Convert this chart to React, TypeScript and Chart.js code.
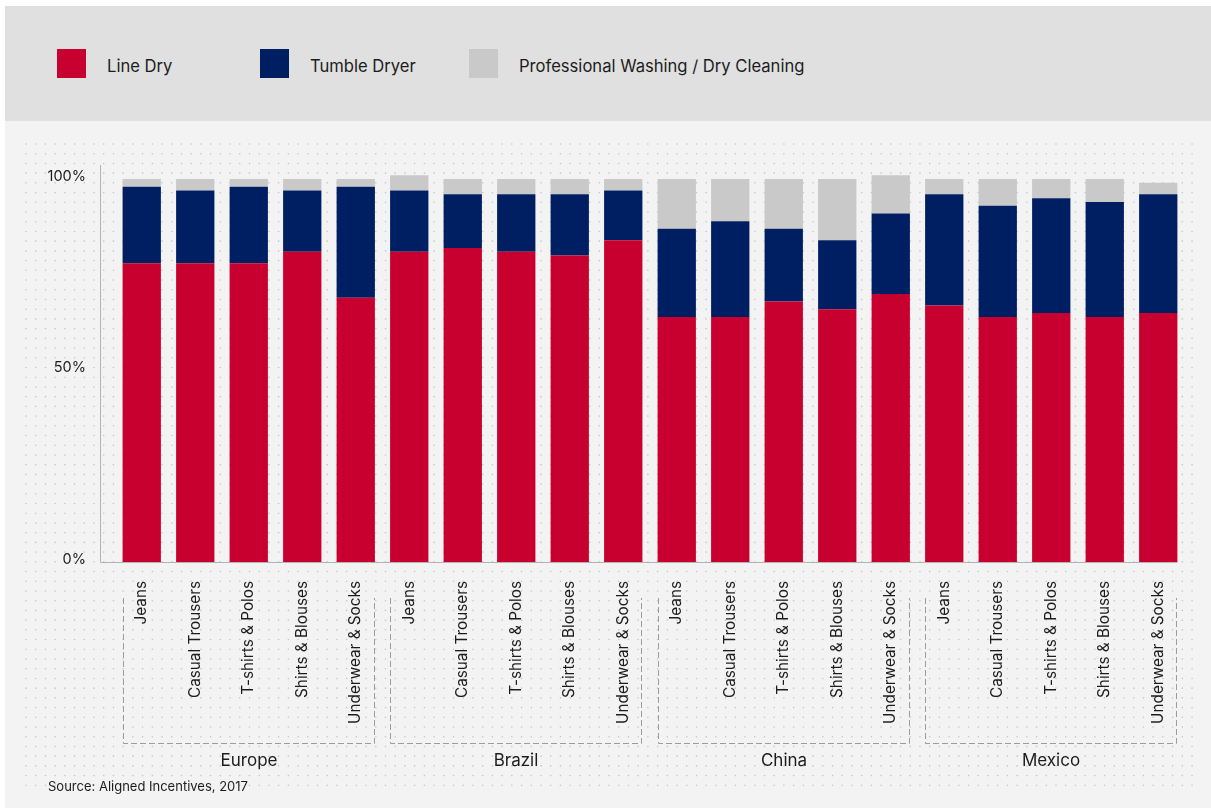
import React, { useEffect, useRef } from "react";
import { Chart, registerables } from "chart.js";

Chart.register(...registerables);

const regions = ["Europe", "Brazil", "China", "Mexico"];
const garments = ["Jeans", "Casual Trousers", "T-shirts & Polos", "Shirts & Blouses", "Underwear & Socks"];
const categories = regions.flatMap(() => garments);

const seriesNames = ["Line Dry", "Tumble Dryer", "Professional Washing / Dry Cleaning"];
const seriesColors = ["#C8002F", "#001F63", "#C9C9C9"];

const lineDry = [78, 78, 78, 81, 69, 81, 82, 81, 80, 84, 64, 64, 68, 66, 70, 67, 64, 65, 64, 65];
const tumbleDryer = [20, 19, 20, 16, 29, 16, 14, 15, 16, 13, 23, 25, 19, 18, 21, 29, 29, 30, 30, 31];
const professional = [2, 3, 2, 3, 2, 4, 4, 4, 4, 3, 13, 11, 13, 16, 10, 4, 7, 5, 6, 3];

const yTicks = [0, 50, 100];
const sourceText = "Source: Aligned Incentives, 2017";

const FONT = "Inter, 'Noto Sans', sans-serif";
const TEXT = "#1c1c1c";

export default function App() {
  const ref = useRef<HTMLCanvasElement | null>(null);

  useEffect(() => {
    const canvas = ref.current;
    if (!canvas) return;

    const decor = {
      id: "decor",
      beforeDraw(chart: any) {
        const ctx = chart.ctx;
        ctx.save();
        ctx.fillStyle = "#c6c6c6";
        const step = 9.717;
        for (let y = 23; y <= 670; y += step) {
          for (let x = 26; x <= 1193; x += step) {
            ctx.beginPath();
            ctx.arc(x, y, 0.8, 0, Math.PI * 2);
            ctx.fill();
          }
        }
        ctx.restore();
      },
      afterDraw(chart: any) {
        const ctx = chart.ctx;
        const ys = chart.scales.y;
        const meta = chart.getDatasetMeta(0);
        const bottom = ys.getPixelForValue(0);
        ctx.save();
        ctx.strokeStyle = "#b3b3b3";
        ctx.lineWidth = 1;
        ctx.beginPath();
        ctx.moveTo(100.5, 44);
        ctx.lineTo(100.5, bottom + 0.5);
        const lastBar = meta.data[meta.data.length - 1];
        ctx.lineTo(lastBar.x + lastBar.width / 2, bottom + 0.5);
        ctx.stroke();

        ctx.strokeStyle = "#9c9c9c";
        ctx.setLineDash([6, 3]);
        const per = garments.length;
        regions.forEach((r, gi) => {
          const first = meta.data[gi * per];
          const last = meta.data[gi * per + per - 1];
          const l = Math.round(first.x - first.width / 2) + 0.5;
          const rr = Math.round(last.x + last.width / 2) - 0.5;
          const top = 477;
          const bot = 622.5;
          ctx.beginPath();
          ctx.moveTo(l, top);
          ctx.lineTo(l, bot);
          ctx.lineTo(rr, bot);
          ctx.lineTo(rr, top);
          ctx.stroke();
          ctx.fillStyle = TEXT;
          ctx.font = `17px ${FONT}`;
          ctx.textAlign = "center";
          ctx.textBaseline = "middle";
          ctx.fillText(r, (l + rr) / 2, 640);
        });
        ctx.setLineDash([]);
        ctx.fillStyle = TEXT;
        ctx.font = `13px ${FONT}`;
        ctx.textAlign = "left";
        ctx.textBaseline = "middle";
        ctx.fillText(sourceText, 48, 666);
        ctx.restore();
      },
    };

    const values = [lineDry, tumbleDryer, professional];
    const chart = new Chart(canvas, {
      type: "bar",
      data: {
        labels: categories,
        datasets: seriesNames.map((name, i) => ({
          label: name,
          data: values[i],
          backgroundColor: seriesColors[i],
          borderWidth: 0,
          barPercentage: 0.716,
          categoryPercentage: 1,
        })),
      },
      options: {
        responsive: false,
        animation: false,
        layout: { padding: { left: 0, right: 26, top: 38.85, bottom: 0 } },
        plugins: {
          legend: { display: false },
          tooltip: { enabled: false },
        },
        scales: {
          x: {
            stacked: true,
            grid: { display: false, drawTicks: false },
            border: { display: false },
            ticks: {
              autoSkip: false,
              minRotation: 90,
              maxRotation: 90,
              padding: 19,
              color: TEXT,
              font: { family: FONT, size: 15.3 },
            },
            afterFit(scale: any) {
              scale.height = 250;
            },
          },
          y: {
            stacked: true,
            min: 0,
            max: 105,
            grid: { display: false, drawTicks: false },
            border: { display: false },
            afterBuildTicks(scale: any) {
              scale.ticks = yTicks.map((v) => ({ value: v }));
            },
            afterFit(scale: any) {
              scale.width = 115;
            },
            ticks: {
              padding: 29,
              labelOffset: -2.5,
              color: TEXT,
              font: { family: FONT, size: 14.5 },
              callback: (v: any) => `${v}%`,
            },
          },
        },
      },
      plugins: [decor],
    });
    return () => chart.destroy();
  }, []);

  const legendPos = [
    { box: 57, text: 107 },
    { box: 260, text: 310 },
    { box: 469, text: 519 },
  ];

  return (
    <div style={{ position: "fixed", left: 0, top: 0, width: 1211, height: 812, background: "#ffffff", overflow: "hidden" }}>
      <div style={{ position: "absolute", left: 5, top: 6, width: 1206, height: 802, background: "#F3F3F3" }} />
      <div style={{ position: "absolute", left: 5, top: 6, width: 1206, height: 115, background: "#E0E0E0" }} />
      {seriesNames.map((name, i) => (
        <React.Fragment key={name}>
          <div style={{ position: "absolute", left: legendPos[i].box, top: 49, width: 29, height: 29, background: seriesColors[i] }} />
          <div
            style={{
              position: "absolute",
              left: legendPos[i].text,
              top: 54,
              height: 24,
              lineHeight: "24px",
              fontFamily: FONT,
              fontSize: 16.6,
              color: TEXT,
              whiteSpace: "nowrap",
            }}
          >
            {name}
          </div>
        </React.Fragment>
      ))}
      <canvas ref={ref} width={1211} height={691} style={{ position: "absolute", left: 0, top: 121, display: "block" }} />
    </div>
  );
}
